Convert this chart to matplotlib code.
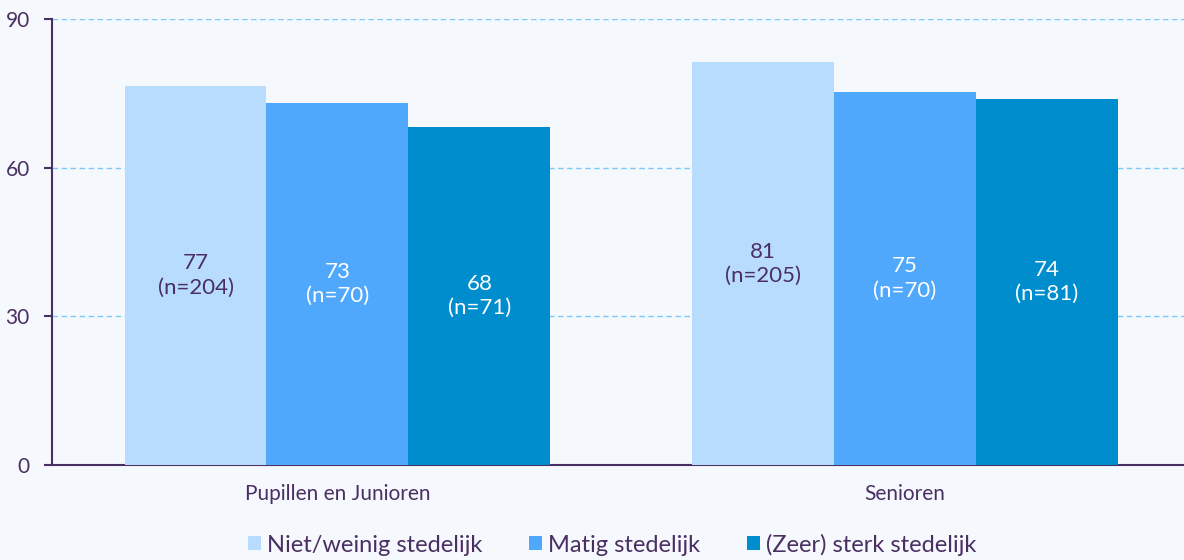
import matplotlib
matplotlib.use("Agg")
import matplotlib.pyplot as plt
import numpy as np

categories = ["Pupillen en Junioren", "Senioren"]
series_names = ["Niet/weinig stedelijk", "Matig stedelijk", "(Zeer) sterk stedelijk"]
values = [
    [76.5, 81.3],
    [73.0, 75.3],
    [68.2, 73.9],
]
value_labels = [
    ["77", "81"],
    ["73", "75"],
    ["68", "74"],
]
n_labels = [
    ["204", "205"],
    ["70", "70"],
    ["71", "81"],
]
yticks = [0, 30, 60, 90]

colors = ["#B8DCFD", "#4FA8FC", "#008DCE"]
text_colors = ["#4A2F63", "#FFFFFF", "#FFFFFF"]
dark = "#4A2F63"
bg = "#F5F8FD"

plt.rcParams['font.family'] = ['Lato', 'DejaVu Sans']

fig = plt.figure(figsize=(11.84, 5.60), dpi=100, facecolor=bg)
ax = fig.add_axes([52/1184, 1 - 465/560, 1132/1184, 446/560])
ax.set_facecolor(bg)

x = np.arange(len(categories))
w = 0.25
for i, (name, vals) in enumerate(zip(series_names, values)):
    pos = x + (i - 1) * w
    bars = ax.bar(pos, vals, width=w, color=colors[i], label=name, zorder=3)
    for j, b in enumerate(bars):
        ax.text(b.get_x() + b.get_width() / 2, b.get_height() / 2,
                f"{value_labels[i][j]}\n(n={n_labels[i][j]})",
                ha="center", va="center", color=text_colors[i], fontsize=16,
                linespacing=1.25, zorder=4)

ax.set_xlim(-0.503, 1.492)
ax.set_ylim(0, 90)
ax.set_yticks(yticks)
ax.set_xticks(x)
ax.set_xticklabels(categories)
ax.yaxis.grid(True, color="#7CC8F8", linestyle=(0, (4, 2.5)), linewidth=1.0, zorder=0)
ax.xaxis.grid(False)

for s in ["top", "right"]:
    ax.spines[s].set_visible(False)
for s in ["left", "bottom"]:
    ax.spines[s].set_color(dark)
    ax.spines[s].set_linewidth(1.5)

ax.tick_params(axis="y", colors=dark, labelsize=15, length=6, width=1.5, pad=10)
ax.tick_params(axis="x", colors=dark, labelsize=15, length=0, pad=14)
for lbl in ax.get_xticklabels() + ax.get_yticklabels():
    lbl.set_color(dark)

leg = fig.legend(loc="lower center", bbox_to_anchor=(0.517, -0.03), ncol=3,
                 frameon=False, fontsize=17, handlelength=0.55, handleheight=0.55,
                 handletextpad=0.25, columnspacing=2.0)
for t in leg.get_texts():
    t.set_color(dark)

fig.savefig("out.png", dpi=100, facecolor=bg)
